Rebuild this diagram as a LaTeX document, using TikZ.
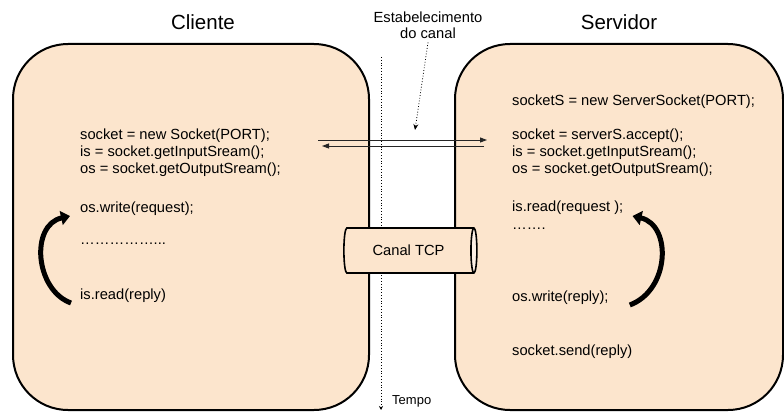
\documentclass[tikz,border=0pt]{standalone}
\usepackage{fontspec}
\setmainfont{Liberation Sans}
\usetikzlibrary{shapes.geometric,arrows.meta}
\definecolor{peach}{HTML}{FCE5CD}
\definecolor{peachlight}{HTML}{FDF0E5}
\tikzset{
  hostbox/.style={draw=black,line width=2pt,fill=peach,rounded corners=55pt},
  code/.style={anchor=base west,inner sep=0pt,font=\fontsize{14.7}{17}\selectfont},
  title/.style={anchor=base,inner sep=0pt,font=\fontsize{20.5}{24}\selectfont},
  msg/.style={line width=0.9pt,draw=black!85,-{Triangle[length=7pt,width=5pt]}},
  loopar/.style={line width=5pt,-{Triangle[length=9pt,width=14pt]}},
  timeline/.style={dotted,line width=0.8pt,-{Stealth[length=4pt,width=4pt]}},
}
\begin{document}
\begin{tikzpicture}[x=1pt,y=-1pt]
\useasboundingbox (0,0) rectangle (784,412);
% boxes
\draw[hostbox] (13,44) rectangle (369,410);
\draw[hostbox] (455,44) rectangle (783,410);
% titles
\node[title] (cli) at (203,30) {Cliente};
\node[title] (srv) at (619,30) {Servidor};
% time line
\coordinate (t0) at (381,57);
\coordinate (t1) at (381,410);
\draw[timeline] (t0) -- (t1);
\node[anchor=base west,inner sep=0pt,font=\fontsize{13}{15}\selectfont] (tempo) at (392,404) {Tempo};
% establishment label
\node[align=center,inner sep=0pt,font=\fontsize{14.7}{15.7}\selectfont] (est) at (428,25) {Estabelecimento\\do canal};
\coordinate (e1) at (415,130);
\draw[dotted,line width=0.8pt,-{Stealth[length=6pt,width=5pt]}] ([yshift=-4pt]est.south) -- (e1);
% client code
\node[code] (c1) at (80,139) {socket = new Socket(PORT);};
\node[code] (c2) at (80,156) {is = socket.getInputSream();};
\node[code] (c3) at (80,173) {os = socket.getOutputSream();};
\node[code] (cwrite) at (80,212) {os.write(request);};
\node[code] (cdots) at (80,244) {……………...};
\node[code] (cread) at (80,299) {is.read(reply)};
% server code
\node[code] (s0) at (512,105) {socketS = new ServerSocket(PORT);};
\node[code] (s1) at (512,139) {socket = serverS.accept();};
\node[code] (s2) at (512,156) {is = socket.getInputSream();};
\node[code] (s3) at (512,173) {os = socket.getOutputSream();};
\node[code] (sread) at (512,211) {is.read(request );};
\node[code] (sdots) at (512,229) {…….};
\node[code] (swrite) at (512,301) {os.write(reply);};
\node[code] (ssend) at (512,355) {socket.send(reply)};
% message arrows
\coordinate (a0) at (318,140);
\coordinate (a1) at (487,140);
\coordinate (b0) at (484,146);
\coordinate (b1) at (322,146);
\draw[msg] (a0) -- (a1);
\draw[msg] (b0) -- (b1);
% TCP channel
\node[cylinder,draw=black,line width=1.6pt,minimum height=133pt,minimum width=45pt,
  aspect=0.55,cylinder uses custom fill,cylinder body fill=peach,cylinder end fill=peachlight,
  inner sep=0pt,font=\fontsize{14.7}{17}\selectfont] (tcp) at (408.5,250.5) {Canal TCP};
% loop arrows
\draw[loopar] ([xshift=-9pt,yshift=-4pt]cread.base west) .. controls (35,290) and (30,225) .. ([xshift=-10pt,yshift=-4pt]cwrite.base west);
\draw[loopar] ([xshift=21pt,yshift=-4pt]swrite.base east) .. controls (670,290) and (672,225) .. ([xshift=9pt,yshift=-5pt]sread.base east);
\end{tikzpicture}
\end{document}
